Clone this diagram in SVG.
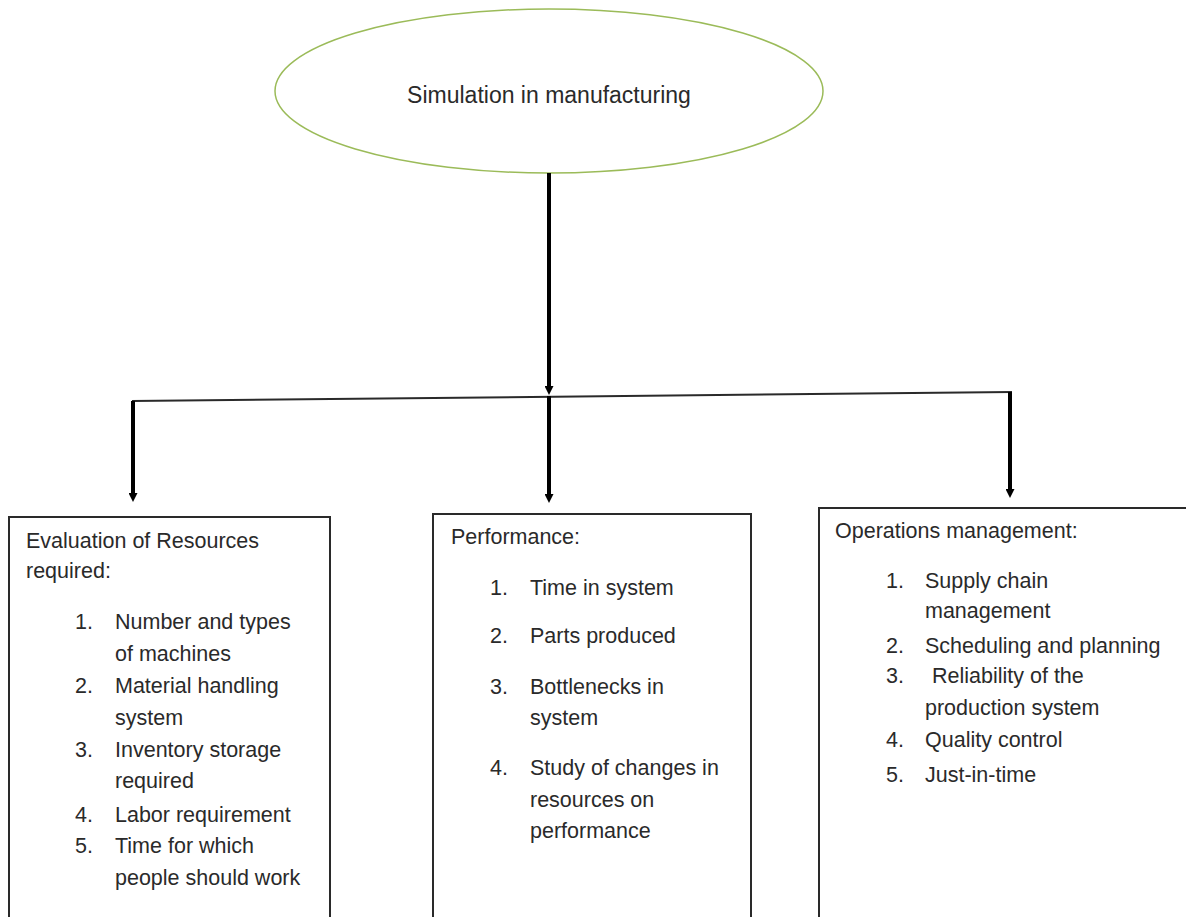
<svg xmlns="http://www.w3.org/2000/svg" width="1186" height="917" viewBox="0 0 1186 917">
  <style>
    .t { font-family: "Liberation Sans", Arial, sans-serif; font-size: 21.5px; fill: #2a2a2a; }
    .title { font-size: 23px; }
    .box { fill: #ffffff; stroke: #2a2a2a; stroke-width: 2; }
    .stem { stroke: #000000; stroke-width: 4; fill: none; }
    .bar { stroke: #2a2a2a; stroke-width: 2; fill: none; }
  </style>
  <defs>
    <marker id="arrow" markerUnits="userSpaceOnUse" markerWidth="9" markerHeight="9" refX="2" refY="4.5" orient="auto">
      <path d="M0,0 L9,4.5 L0,9 z" fill="#000000"/>
    </marker>
  </defs>
  <rect width="1186" height="917" fill="#ffffff"/>

  <g id="root">
    <ellipse cx="549" cy="91" rx="274" ry="82" fill="#ffffff" stroke="#9bbb59" stroke-width="1.5"/>
    <text class="t title" x="549" y="103" text-anchor="middle">Simulation in manufacturing</text>
  </g>

  <g id="connectors">
    <line class="stem" x1="549" y1="173" x2="549" y2="388" marker-end="url(#arrow)"/>
    <line class="bar" x1="132" y1="401" x2="1012" y2="392"/>
    <line class="stem" x1="133" y1="401" x2="133" y2="495" marker-end="url(#arrow)"/>
    <line class="stem" x1="549" y1="396" x2="549" y2="496" marker-end="url(#arrow)"/>
    <line class="stem" x1="1010" y1="392" x2="1010" y2="491" marker-end="url(#arrow)"/>
  </g>

  <g id="resources">
    <rect class="box" x="9" y="517" width="321" height="420"/>
    <text class="t" x="26" y="548">Evaluation of Resources</text>
    <text class="t" x="26" y="578">required:</text>
    <text class="t" x="75" y="629">1.</text>
    <text class="t" x="115" y="629">Number and types</text>
    <text class="t" x="115" y="661">of machines</text>
    <text class="t" x="75" y="693">2.</text>
    <text class="t" x="115" y="693">Material handling</text>
    <text class="t" x="115" y="725">system</text>
    <text class="t" x="75" y="757">3.</text>
    <text class="t" x="115" y="757">Inventory storage</text>
    <text class="t" x="115" y="788">required</text>
    <text class="t" x="75" y="822">4.</text>
    <text class="t" x="115" y="822">Labor requirement</text>
    <text class="t" x="75" y="853">5.</text>
    <text class="t" x="115" y="853">Time for which</text>
    <text class="t" x="115" y="885">people should work</text>
  </g>

  <g id="performance">
    <rect class="box" x="433" y="514" width="318" height="420"/>
    <text class="t" x="451" y="544">Performance:</text>
    <text class="t" x="490" y="595">1.</text>
    <text class="t" x="530" y="595">Time in system</text>
    <text class="t" x="490" y="643">2.</text>
    <text class="t" x="530" y="643">Parts produced</text>
    <text class="t" x="490" y="694">3.</text>
    <text class="t" x="530" y="694">Bottlenecks in</text>
    <text class="t" x="530" y="725">system</text>
    <text class="t" x="490" y="775">4.</text>
    <text class="t" x="530" y="775">Study of changes in</text>
    <text class="t" x="530" y="807">resources on</text>
    <text class="t" x="530" y="838">performance</text>
  </g>

  <g id="operations">
    <rect class="box" x="819" y="508" width="400" height="430"/>
    <text class="t" x="835" y="538">Operations management:</text>
    <text class="t" x="886" y="588">1.</text>
    <text class="t" x="925" y="588">Supply chain</text>
    <text class="t" x="925" y="618">management</text>
    <text class="t" x="886" y="653">2.</text>
    <text class="t" x="925" y="653">Scheduling and planning</text>
    <text class="t" x="886" y="683">3.</text>
    <text class="t" x="932" y="683">Reliability of the</text>
    <text class="t" x="925" y="715">production system</text>
    <text class="t" x="886" y="747">4.</text>
    <text class="t" x="925" y="747">Quality control</text>
    <text class="t" x="886" y="782">5.</text>
    <text class="t" x="925" y="782">Just-in-time</text>
  </g>
</svg>
